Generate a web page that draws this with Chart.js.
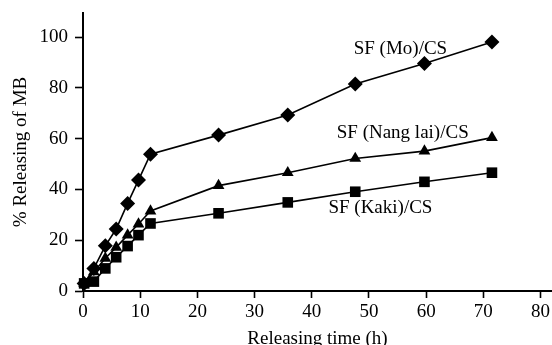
<!DOCTYPE html>
<html>
<head>
<meta charset="utf-8">
<script src="https://cdn.jsdelivr.net/npm/chart.js@4/dist/chart.umd.min.js"></script>
<style>
html,body{margin:0;padding:0;background:#fff;}
#wrap{width:552px;height:345px;position:relative;}
</style>
</head>
<body>
<div id="wrap"><canvas id="c" width="552" height="345"></canvas></div>
<script>
// Data
const timeH = [0.2, 1.9, 3.9, 5.8, 7.8, 9.7, 11.8, 23.7, 35.8, 47.6, 59.7, 71.5];
const seriesNames = ["SF (Mo)/CS", "SF (Nang lai)/CS", "SF (Kaki)/CS"];
const moValues = [3, 8.9, 17.8, 24.4, 34.5, 43.7, 53.9, 61.4, 69.3, 81.5, 89.6, 98.1];
const nangLaiValues = [3, 7.5, 12.9, 17.2, 22, 26.4, 31.5, 41.5, 46.6, 52.2, 55.1, 60.4];
const kakiValues = [3, 3.7, 8.9, 13.3, 17.7, 22, 26.6, 30.6, 34.9, 39.1, 43, 46.6];
const xTicks = [0, 10, 20, 30, 40, 50, 60, 70, 80];
const yTicks = [0, 20, 40, 60, 80, 100];

const FONT = "'Liberation Serif', 'Times New Roman', serif";

function pts(vals){ return timeH.map((t,i)=>({x:t, y:vals[i]})); }

const labelPlugin = {
  id: 'seriesLabels',
  afterDatasetsDraw(chart, args, opts) {
    const ctx = chart.ctx;
    const xs = chart.scales.x, ys = chart.scales.y;
    ctx.save();
    ctx.font = '19px ' + FONT;
    ctx.fillStyle = '#000';
    ctx.textAlign = 'center';
    ctx.textBaseline = 'middle';
    opts.items.forEach(it => {
      ctx.fillText(seriesNames[it.i], xs.getPixelForValue(it.x), ys.getPixelForValue(it.y));
    });
    ctx.restore();
  }
};

const common = {
  showLine: true,
  borderColor: '#000',
  backgroundColor: '#000',
  borderWidth: 1.6,
  pointBorderWidth: 0,
  tension: 0,
  clip: false
};

new Chart(document.getElementById('c'), {
  type: 'scatter',
  data: {
    datasets: [
      Object.assign({label: seriesNames[0], data: pts(moValues), pointStyle: 'rectRot', pointRadius: 7.5}, common),
      Object.assign({label: seriesNames[1], data: pts(nangLaiValues), pointStyle: 'triangle', pointRadius: 6.8}, common),
      Object.assign({label: seriesNames[2], data: pts(kakiValues), pointStyle: 'rect', pointRadius: 7.5}, common)
    ]
  },
  options: {
    responsive: false,
    animation: false,
    layout: {autoPadding: false, padding: {top: 13, right: 0, left: 0, bottom: 0}},
    plugins: {
      legend: {display: false},
      tooltip: {enabled: false},
      seriesLabels: {items: [
        {i: 0, x: 55.5, y: 95.3},
        {i: 1, x: 55.9, y: 62.2},
        {i: 2, x: 52, y: 32.7}
      ]}
    },
    scales: {
      x: {
        type: 'linear',
        min: 0, max: 82,
        afterBuildTicks: s => { s.ticks = xTicks.map(v => ({value: v})); },
        afterFit: s => { s.height = 54; s.paddingLeft = 0; s.paddingRight = 0; },
        grid: {drawOnChartArea: false, drawTicks: true, tickLength: 7, tickWidth: 1.6, tickColor: '#000'},
        border: {display: true, color: '#000', width: 2},
        ticks: {color: '#000', padding: 3, font: {family: FONT, size: 19}, maxRotation: 0},
        title: {display: true, text: 'Releasing time (h)', color: '#000', font: {family: FONT, size: 19}, padding: {top: 0, bottom: -5}}
      },
      y: {
        type: 'linear',
        min: 0, max: 109.5,
        afterBuildTicks: s => { s.ticks = yTicks.map(v => ({value: v})); },
        afterFit: s => { s.width = 83; s.paddingTop = 0; s.paddingBottom = 0; },
        grid: {drawOnChartArea: false, drawTicks: true, tickLength: 8, tickWidth: 1.6, tickColor: '#000'},
        border: {display: true, color: '#000', width: 2},
        ticks: {color: '#000', padding: 7, font: {family: FONT, size: 19}},
        title: {display: true, text: '% Releasing of MB', color: '#000', font: {family: FONT, size: 19}, padding: {top: 10, bottom: 0}}
      }
    }
  },
  plugins: [labelPlugin]
});
</script>
</body>
</html>
